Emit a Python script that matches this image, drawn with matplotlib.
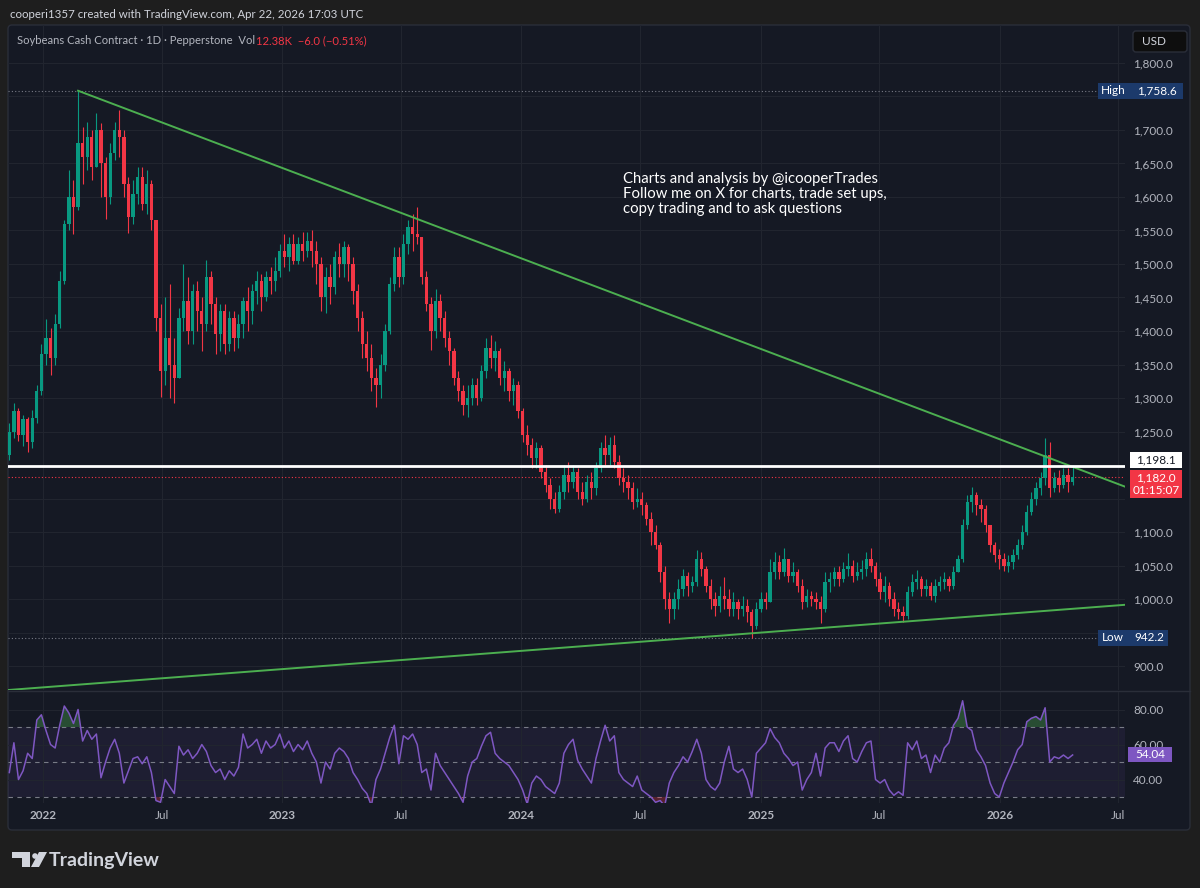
import numpy as np
import pandas as pd
import matplotlib
matplotlib.use("Agg")
import matplotlib.pyplot as plt
import matplotlib.dates as mdates
from matplotlib.patches import Rectangle, FancyBboxPatch, Polygon, Circle

plt.rcParams['font.family'] = ['Lato', 'DejaVu Sans']

# weekly bars (week of 2021-11-08 .. week of 2026-04-20)
week_dates = pd.date_range("2021-11-10", periods=233, freq="7D")
first_open = 1215.0
closes = [
    1250, 1280, 1245, 1268, 1235, 1270, 1310, 1365, 1390, 1360,
    1410, 1475, 1560, 1600, 1585, 1680, 1660, 1690, 1645, 1700,
    1650, 1600, 1665, 1700, 1690, 1620, 1570, 1605, 1630, 1590,
    1620, 1565, 1420, 1340, 1390, 1350, 1330, 1420, 1445, 1400,
    1460, 1430, 1410, 1480, 1440, 1395, 1430, 1380, 1420, 1390,
    1410, 1445, 1430, 1460, 1475, 1450, 1480, 1475, 1490, 1520,
    1510, 1530, 1505, 1530, 1520, 1535, 1520, 1500, 1450, 1480,
    1465, 1510, 1500, 1525, 1500, 1460, 1420, 1380, 1360, 1330,
    1320, 1350, 1400, 1470, 1510, 1480, 1530, 1555, 1545, 1540,
    1480, 1440, 1400, 1445, 1420, 1390, 1370, 1330, 1310, 1290,
    1300, 1320, 1300, 1340, 1375, 1360, 1370, 1330, 1340, 1310,
    1320, 1280, 1245, 1230, 1210, 1225, 1190, 1170, 1150, 1135,
    1160, 1185, 1175, 1190, 1160, 1150, 1175, 1165, 1195, 1225,
    1215, 1230, 1205, 1180, 1175, 1165, 1145, 1150, 1140, 1120,
    1100, 1080, 1040, 1000, 985, 1000, 1015, 1035, 1020, 1025,
    1060, 1045, 1020, 1000, 990, 1005, 1000, 985, 995, 985,
    990, 980, 960, 985, 1000, 995, 1040, 1055, 1040, 1060,
    1035, 1040, 1020, 995, 1005, 1000, 995, 985, 1025, 1030,
    1040, 1030, 1045, 1050, 1035, 1040, 1045, 1060, 1050, 1030,
    1010, 1020, 1000, 985, 980, 975, 1010, 1025, 1030, 1015,
    1020, 1005, 1020, 1025, 1030, 1020, 1040, 1060, 1110, 1145,
    1155, 1140, 1135, 1110, 1080, 1065, 1060, 1050, 1055, 1065,
    1080, 1100, 1130, 1150, 1165, 1180, 1215, 1165, 1180, 1170,
    1185, 1175, 1182,
]
highs = [
    1262, 1292, 1285, 1275, 1272, 1282, 1320, 1380, 1418, 1405,
    1425, 1490, 1565, 1640, 1625, 1758.6, 1705, 1712, 1700, 1726,
    1710, 1660, 1680, 1712, 1730, 1700, 1630, 1625, 1645, 1645,
    1640, 1625, 1565, 1440, 1450, 1470, 1390, 1435, 1500, 1480,
    1470, 1475, 1450, 1506, 1490, 1450, 1440, 1440, 1430, 1430,
    1425, 1450, 1465, 1470, 1490, 1485, 1490, 1495, 1510, 1530,
    1545, 1540, 1545, 1540, 1548, 1548, 1550, 1535, 1510, 1495,
    1500, 1520, 1532, 1535, 1530, 1510, 1470, 1430, 1400, 1380,
    1345, 1365, 1410, 1480, 1525, 1525, 1545, 1565, 1575, 1585,
    1540, 1490, 1450, 1462, 1455, 1430, 1400, 1375, 1340, 1320,
    1320, 1330, 1330, 1350, 1390, 1394, 1385, 1375, 1355, 1345,
    1330, 1325, 1285, 1260, 1240, 1235, 1230, 1200, 1180, 1160,
    1170, 1200, 1205, 1200, 1195, 1175, 1185, 1190, 1205, 1235,
    1245, 1242, 1245, 1215, 1195, 1185, 1175, 1165, 1160, 1145,
    1130, 1110, 1085, 1050, 1010, 1010, 1030, 1045, 1040, 1035,
    1073, 1070, 1050, 1030, 1010, 1020, 1033, 1015, 1010, 1000,
    1005, 1000, 985, 995, 1010, 1010, 1060, 1070, 1065, 1076,
    1060, 1055, 1045, 1030, 1015, 1012, 1010, 1005, 1040, 1040,
    1048, 1050, 1055, 1069, 1058, 1055, 1058, 1070, 1076, 1055,
    1040, 1035, 1025, 1010, 995, 990, 1020, 1038, 1043, 1035,
    1030, 1025, 1030, 1035, 1040, 1035, 1050, 1065, 1120, 1155,
    1167, 1160, 1150, 1140, 1110, 1085, 1075, 1068, 1065, 1075,
    1090, 1110, 1140, 1160, 1175, 1190, 1240, 1235, 1190, 1192,
    1195, 1195, 1200,
]
lows = [
    1208, 1240, 1236, 1228, 1220, 1225, 1262, 1305, 1350, 1335,
    1350, 1405, 1470, 1550, 1545, 1580, 1620, 1640, 1625, 1660,
    1600, 1567, 1590, 1655, 1660, 1600, 1546, 1560, 1590, 1580,
    1575, 1550, 1400, 1302, 1320, 1300, 1293, 1330, 1400, 1380,
    1380, 1400, 1370, 1400, 1410, 1365, 1370, 1365, 1370, 1370,
    1375, 1390, 1400, 1410, 1440, 1430, 1445, 1455, 1460, 1480,
    1495, 1490, 1500, 1500, 1505, 1510, 1495, 1470, 1430, 1427,
    1440, 1455, 1480, 1480, 1475, 1440, 1400, 1360, 1340, 1310,
    1287, 1300, 1340, 1395, 1460, 1465, 1470, 1515, 1520, 1530,
    1470, 1430, 1372, 1390, 1400, 1376, 1350, 1320, 1295, 1275,
    1272, 1290, 1290, 1295, 1330, 1345, 1340, 1320, 1310, 1295,
    1290, 1270, 1235, 1215, 1195, 1195, 1180, 1160, 1135, 1128,
    1130, 1150, 1160, 1165, 1150, 1140, 1145, 1150, 1155, 1190,
    1200, 1200, 1195, 1170, 1160, 1150, 1135, 1137, 1125, 1110,
    1080, 1075, 1025, 985, 964, 970, 985, 1005, 1005, 1010,
    1020, 1035, 1010, 985, 975, 980, 985, 975, 975, 970,
    975, 965, 942.2, 955, 980, 985, 995, 1030, 1030, 1035,
    1025, 1025, 1010, 985, 988, 990, 985, 964, 980, 1010,
    1020, 1020, 1025, 1035, 1025, 1028, 1030, 1035, 1040, 1020,
    1000, 995, 990, 975, 970, 966, 970, 1005, 1015, 1005,
    1005, 998, 995, 1012, 1015, 1012, 1015, 1040, 1055, 1105,
    1130, 1125, 1115, 1100, 1070, 1055, 1045, 1042, 1040, 1045,
    1060, 1075, 1095, 1125, 1140, 1155, 1170, 1152, 1160, 1160,
    1165, 1160, 1170,
]
rsi_values = [
    44, 61, 40, 45, 55, 52, 74, 77, 68, 60,
    58, 71, 82, 78, 72, 80, 62, 68, 63, 66,
    41, 50, 58, 63, 55, 38, 45, 52, 53, 49,
    53, 44, 28, 27, 40, 36, 32, 59, 54, 57,
    52, 55, 60, 56, 48, 44, 46, 40, 45, 42,
    47, 66, 58, 60, 63, 55, 62, 58, 60, 66,
    58, 62, 56, 60, 57, 62, 55, 50, 38, 50,
    46, 55, 58, 56, 52, 44, 40, 35, 32, 25,
    40, 46, 55, 64, 71, 49, 65, 63, 66, 60,
    44, 46, 34, 55, 48, 44, 40, 36, 32, 27,
    42, 50, 52, 59, 65, 67, 55, 52, 50, 48,
    44, 40, 34, 26, 38, 42, 40, 36, 34, 32,
    38, 55, 60, 63, 51, 46, 42, 38, 52, 62,
    71, 62, 65, 44, 40, 38, 36, 42, 34, 32,
    30, 27, 28, 25, 38, 44, 48, 53, 50, 56,
    63, 55, 40, 36, 34, 38, 50, 59, 46, 44,
    46, 40, 30, 55, 58, 61, 69, 64, 61, 55,
    52, 48, 50, 34, 40, 44, 55, 42, 58, 61,
    61, 56, 62, 65, 52, 50, 56, 61, 62, 40,
    38, 40, 34, 31, 33, 31, 61, 57, 62, 52,
    54, 44, 54, 50, 58, 61, 71, 75, 85, 70,
    68, 57, 53, 48, 38, 32, 30, 38, 44, 50,
    57, 60, 73, 75, 76, 74, 81, 50, 53, 52,
    54, 52, 54.04,
]

high_price = 1758.6
low_price = 942.2
level_price = 1198.1
last_price = 1182.0
last_rsi = 54.04
countdown = "01:15:07"

# trend line anchor points (date, price)
trend_upper = [("2022-02-23", 1758.6), ("2026-04-20", 1198.0)]
trend_lower = [("2024-12-20", 949.0), ("2025-08-05", 966.0)]

price_ticks = list(range(900, 1801, 50))
hidden_ticks = [950, 1150, 1200, 1750]  # covered by the price tags
rsi_ticks = [40, 60, 80]
rsi_levels = [30, 50, 70]
x_ticks = ["2022-01-01", "2022-07-01", "2023-01-01", "2023-07-01", "2024-01-01",
           "2024-07-01", "2025-01-01", "2025-07-01", "2026-01-01", "2026-07-01"]
x_labels = ["2022", "Jul", "2023", "Jul", "2024", "Jul", "2025", "Jul", "2026", "Jul"]

BG = "#1e1e1e"
PANEL = "#151924"
GRID = "#21252f"
TXT = "#b2b5be"
UP = "#089981"
DN = "#f23645"
PURPLE = "#7e57c2"
GREEN = "#4caf50"
TAGBLUE = "#1c3a6b"

W, H = 1200, 888
fig = plt.figure(figsize=(12, 8.88), dpi=100, facecolor=BG)


def frect(x0, y0, x1, y1):
    # pixel box with top-left origin -> figure fraction rect
    return [x0 / W, 1 - y1 / H, (x1 - x0) / W, (y1 - y0) / H]


# chart panel
bg = fig.add_axes([0, 0, 1, 1])
bg.set_xlim(0, W)
bg.set_ylim(H, 0)
bg.axis('off')
bg.add_patch(FancyBboxPatch((8, 25), 1182, 805, boxstyle="round,pad=0,rounding_size=4",
                            fc=PANEL, ec="#2a2e39", lw=1))
bg.plot([8, 1190], [691, 691], color="#2a2e39", lw=1)

ax = fig.add_axes(frect(8, 25, 1125, 690))
rax = fig.add_axes(frect(8, 692, 1125, 803), sharex=ax)
for a in (ax, rax):
    a.set_facecolor('none')
    for s in a.spines.values():
        s.set_visible(False)
    a.set_axisbelow(True)
    a.grid(True, color=GRID, lw=0.8)

x = mdates.date2num(week_dates)
c = np.array(closes, dtype=float)
o = np.concatenate([[first_open], c[:-1]])
h = np.maximum(np.array(highs, dtype=float), np.maximum(o, c))
l = np.minimum(np.array(lows, dtype=float), np.minimum(o, c))
col = np.where(c >= o, UP, DN)

ax.vlines(x, l, h, colors=col, lw=0.8, zorder=2)
ax.bar(x, np.maximum(np.abs(c - o), 1.2), bottom=np.minimum(o, c), width=5.0,
       color=col, lw=0, zorder=3)

xmin = mdates.date2num(pd.Timestamp("2021-11-08"))
xmax = mdates.date2num(pd.Timestamp("2026-07-11"))
ax.set_xlim(xmin, xmax)
ax.set_ylim(864.2, 1856.7)
rax.set_ylim(26.6, 90)


def extend(points):
    (d0, p0), (d1, p1) = points
    t0 = mdates.date2num(pd.Timestamp(d0))
    t1 = mdates.date2num(pd.Timestamp(d1))
    k = (p1 - p0) / (t1 - t0)
    return t0, p0, k


t0, p0, k = extend(trend_upper)
ax.plot([t0, xmax], [p0, p0 + k * (xmax - t0)], color=GREEN, lw=1.4, zorder=4)
t0, p0, k = extend(trend_lower)
ax.plot([xmin, xmax], [p0 + k * (xmin - t0), p0 + k * (xmax - t0)], color=GREEN, lw=1.4, zorder=4)

ax.axhline(level_price, color="white", lw=2, zorder=5)
ax.axhline(high_price, color="#787b86", lw=0.8, ls=(0, (1, 2)), zorder=1)
ax.axhline(low_price, color="#787b86", lw=0.8, ls=(0, (1, 2)), zorder=1)
ax.axhline(last_price, color=DN, lw=0.8, ls=(0, (1, 2)), zorder=1)

ax.yaxis.set_ticks_position('right')
ax.set_yticks(price_ticks)
ax.set_yticklabels(["" if v in hidden_ticks else f"{v:,.1f}" for v in price_ticks])
ax.tick_params(axis='y', length=0, pad=6, labelsize=8.5, labelcolor=TXT)
ax.tick_params(axis='x', length=0, labelbottom=False)

# RSI pane
rsi = np.array(rsi_values, dtype=float)
rax.axhspan(30, 70, color=PURPLE, alpha=0.09, lw=0, zorder=0)
for lv in rsi_levels:
    rax.axhline(lv, color="#787b86", lw=0.8, ls=(0, (4, 4)), zorder=1)
rax.fill_between(x, 70, rsi, where=rsi > 70, interpolate=True, color=GREEN, alpha=0.35, lw=0)
rax.fill_between(x, 30, rsi, where=rsi < 30, interpolate=True, color=DN, alpha=0.3, lw=0)
rax.plot(x, rsi, color=PURPLE, lw=1.1, zorder=3)
rax.yaxis.set_ticks_position('right')
rax.set_yticks(rsi_ticks)
rax.set_yticklabels([f"{v:.2f}" for v in rsi_ticks])
rax.tick_params(axis='y', length=0, pad=6, labelsize=8.5, labelcolor=TXT)
rax.set_xticks(mdates.date2num(pd.to_datetime(x_ticks)))
rax.set_xticklabels(x_labels)
rax.tick_params(axis='x', length=0, pad=5, labelsize=8.5, labelcolor=TXT)
for lab in rax.get_xticklabels():
    if lab.get_text() != "Jul":
        lab.set_fontweight('bold')
rax.set_xlim(xmin, xmax)

# overlay in pixel coordinates for tags and texts
ov = fig.add_axes([0, 0, 1, 1], zorder=10)
ov.set_xlim(0, W)
ov.set_ylim(H, 0)
ov.axis('off')


def ypix(a, v):
    return H - a.transData.transform((0, v))[1]


def tag(x0, x1, yc, hh, fc, texts, tc, fs=8.5):
    ov.add_patch(Rectangle((x0, yc - hh / 2), x1 - x0, hh, fc=fc, ec='none'))
    for xt, s in texts:
        ov.text(xt, yc, s, color=tc, fontsize=fs, ha='center', va='center', linespacing=1.15)


y_hi = ypix(ax, high_price)
tag(1098, 1183, y_hi, 16, TAGBLUE, [(1113, "High"), (1157, f"{high_price:,.1f}")], "white")
y_lo = ypix(ax, low_price)
tag(1098, 1168, y_lo, 16, TAGBLUE, [(1113, "Low"), (1149, f"{low_price:,.1f}")], "white")
tag(1130, 1182, ypix(ax, level_price) - 6, 16, "white", [(1156, f"{level_price:,.1f}")], "#131722")
tag(1130, 1182, ypix(ax, last_price) + 7, 28, DN, [(1156, f"{last_price:,.1f}\n{countdown}")], "white")
tag(1128, 1172, ypix(rax, last_rsi), 15, PURPLE, [(1150, f"{last_rsi:.2f}")], "white")

ov.add_patch(FancyBboxPatch((1133, 31), 54, 21, boxstyle="round,pad=0,rounding_size=3",
                            fc="#0e0e0e", ec="#2a2e39", lw=1))
ov.text(1142, 41.5, "USD", color="#d1d4dc", fontsize=8.5, va='center')

ov.text(10, 14, "cooperi1357 created with TradingView.com, Apr 22, 2026 17:03 UTC",
        color="#d1d4dc", fontsize=8.3, va='center')
t1 = ov.text(17, 41, "Soybeans Cash Contract · 1D · Pepperstone  Vol", color=TXT,
             fontsize=8.1, va='center')
fig.canvas.draw()
bb = t1.get_window_extent()
xend = ov.transData.inverted().transform((bb.x1, bb.y0))[0]
ov.text(xend + 1, 41, "12.38K  −6.0 (−0.51%)", color=DN, fontsize=8.1, va='center')

ov.text(623, 172, "Charts and analysis by @icooperTrades\nFollow me on X for charts, trade set ups,\n"
        "copy trading and to ask questions", color="white", fontsize=10.7, va='top', linespacing=1.08)

# TradingView logo
LOGO = "#d1d4dc"
ov.add_patch(Rectangle((12, 852), 18, 5.5, fc=LOGO, ec='none'))
ov.add_patch(Rectangle((22, 852), 8, 15, fc=LOGO, ec='none'))
ov.add_patch(Circle((35, 856), 2.8, fc=LOGO, ec='none'))
ov.add_patch(Polygon([(39, 852), (47, 852), (39, 867), (31, 867)], fc=LOGO, ec='none'))
ov.text(49, 860, "TradingView", color=LOGO, fontsize=14, fontweight='bold', va='center')

fig.savefig("out.png", dpi=100, facecolor=BG)
